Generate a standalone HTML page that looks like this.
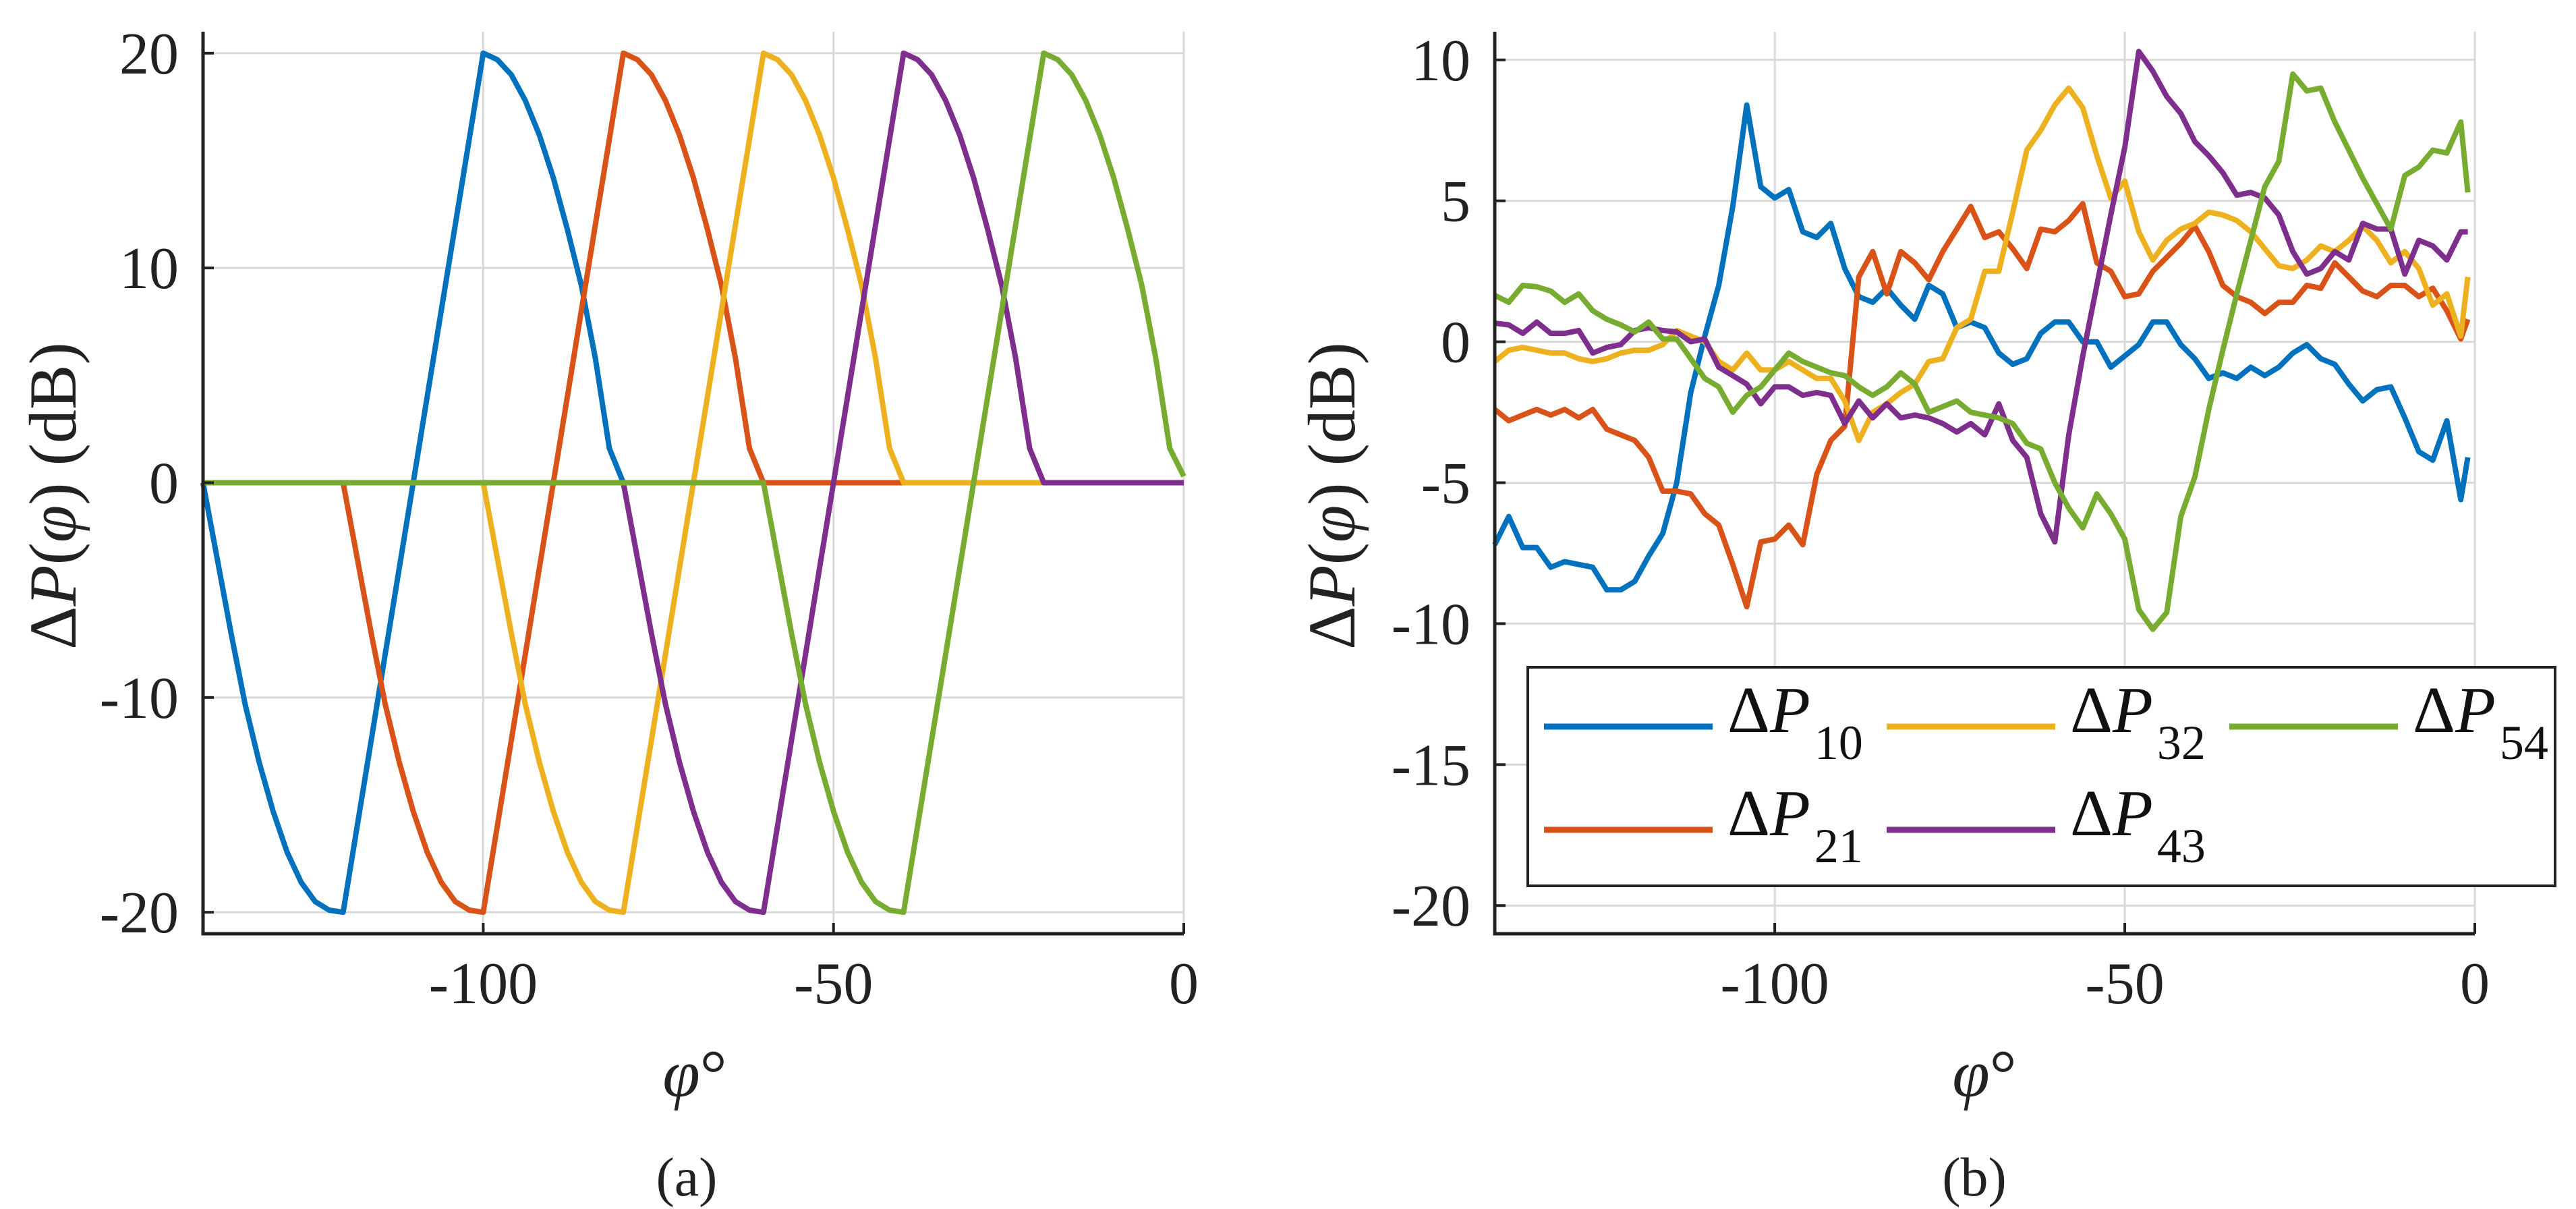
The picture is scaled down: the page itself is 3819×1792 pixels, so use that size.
<!DOCTYPE html>
<html><head><meta charset="utf-8"><style>
html,body{margin:0;padding:0;background:#fff;}
svg{display:block;font-family:"Liberation Serif",serif;}
</style></head><body>
<svg id="fig" width="3819" height="1792" viewBox="0 0 3819 1792" xmlns="http://www.w3.org/2000/svg">
<g id="pa"></g>
<g id="pb"></g>
<g id="legend"></g>
</svg>
<script>
const colors = ["#0072BD","#D95319","#EDB120","#7E2F8E","#77AC30"];
const seriesNames = ["10","21","32","43","54"];
const xTicks = [-100,-50,0];
const yTicksA = [-20,-10,0,10,20];
const yTicksB = [-20,-15,-10,-5,0,5,10];
const xA = [-140,-138,-136,-134,-132,-130,-128,-126,-124,-122,-120,-118,-116,-114,-112,-110,-108,-106,-104,-102,-100,-98,-96,-94,-92,-90,-88,-86,-84,-82,-80,-78,-76,-74,-72,-70,-68,-66,-64,-62,-60,-58,-56,-54,-52,-50,-48,-46,-44,-42,-40,-38,-36,-34,-32,-30,-28,-26,-24,-22,-20,-18,-16,-14,-12,-10,-8,-6,-4,-2,0];
const a10 = [0,-3.5,-7,-10.3,-13,-15.3,-17.2,-18.6,-19.5,-19.9,-20,-16,-12,-8,-4,0,4,8,12,16,20,19.7,19,17.8,16.2,14.2,11.8,9.2,5.8,1.6,0,0,0,0,0,0,0,0,0,0,0,0,0,0,0,0,0,0,0,0,0,0,0,0,0,0,0,0,0,0,0,0,0,0,0,0,0,0,0,0,0];
const a21 = [0,0,0,0,0,0,0,0,0,0,0,-3.5,-7,-10.3,-13,-15.3,-17.2,-18.6,-19.5,-19.9,-20,-16,-12,-8,-4,0,4,8,12,16,20,19.7,19,17.8,16.2,14.2,11.8,9.2,5.8,1.6,0,0,0,0,0,0,0,0,0,0,0,0,0,0,0,0,0,0,0,0,0,0,0,0,0,0,0,0,0,0,0];
const a32 = [0,0,0,0,0,0,0,0,0,0,0,0,0,0,0,0,0,0,0,0,0,-3.5,-7,-10.3,-13,-15.3,-17.2,-18.6,-19.5,-19.9,-20,-16,-12,-8,-4,0,4,8,12,16,20,19.7,19,17.8,16.2,14.2,11.8,9.2,5.8,1.6,0,0,0,0,0,0,0,0,0,0,0,0,0,0,0,0,0,0,0,0,0];
const a43 = [0,0,0,0,0,0,0,0,0,0,0,0,0,0,0,0,0,0,0,0,0,0,0,0,0,0,0,0,0,0,0,-3.5,-7,-10.3,-13,-15.3,-17.2,-18.6,-19.5,-19.9,-20,-16,-12,-8,-4,0,4,8,12,16,20,19.7,19,17.8,16.2,14.2,11.8,9.2,5.8,1.6,0,0,0,0,0,0,0,0,0,0,0];
const a54 = [0,0,0,0,0,0,0,0,0,0,0,0,0,0,0,0,0,0,0,0,0,0,0,0,0,0,0,0,0,0,0,0,0,0,0,0,0,0,0,0,0,-3.5,-7,-10.3,-13,-15.3,-17.2,-18.6,-19.5,-19.9,-20,-16,-12,-8,-4,0,4,8,12,16,20,19.7,19,17.8,16.2,14.2,11.8,9.2,5.8,1.6,0.3];
const xB = [-140,-138,-136,-134,-132,-130,-128,-126,-124,-122,-120,-118,-116,-114,-112,-110,-108,-106,-104,-102,-100,-98,-96,-94,-92,-90,-88,-86,-84,-82,-80,-78,-76,-74,-72,-70,-68,-66,-64,-62,-60,-58,-56,-54,-52,-50,-48,-46,-44,-42,-40,-38,-36,-34,-32,-30,-28,-26,-24,-22,-20,-18,-16,-14,-12,-10,-8,-6,-4,-2,-1];
const b10 = [-7.2,-6.2,-7.3,-7.3,-8.0,-7.8,-7.9,-8.0,-8.8,-8.8,-8.5,-7.6,-6.8,-5.0,-1.8,0.2,2.0,4.8,8.4,5.5,5.1,5.4,3.9,3.7,4.2,2.6,1.6,1.4,1.9,1.3,0.8,2.0,1.7,0.5,0.7,0.5,-0.4,-0.8,-0.6,0.3,0.7,0.7,0,0,-0.9,-0.5,-0.1,0.7,0.7,-0.1,-0.6,-1.3,-1.1,-1.3,-0.9,-1.2,-0.9,-0.4,-0.1,-0.6,-0.8,-1.5,-2.1,-1.7,-1.6,-2.7,-3.9,-4.2,-2.8,-5.6,-4.1];
const b21 = [-2.4,-2.8,-2.6,-2.4,-2.6,-2.4,-2.7,-2.4,-3.1,-3.3,-3.5,-4.1,-5.3,-5.3,-5.4,-6.1,-6.5,-7.9,-9.4,-7.1,-7.0,-6.5,-7.2,-4.7,-3.5,-3.0,2.3,3.2,1.7,3.2,2.8,2.2,3.2,4.0,4.8,3.7,3.9,3.3,2.6,4.0,3.9,4.3,4.9,2.8,2.5,1.6,1.7,2.5,3.0,3.5,4.1,3.2,2.0,1.6,1.4,1.0,1.4,1.4,2.0,1.9,2.8,2.3,1.8,1.6,2.0,2.0,1.6,1.9,1.1,0.1,0.8];
const b32 = [-0.7,-0.3,-0.2,-0.3,-0.4,-0.4,-0.6,-0.7,-0.6,-0.4,-0.3,-0.3,-0.1,0.4,0.2,0,-0.7,-1.0,-0.4,-1.0,-1.0,-0.7,-1.0,-1.3,-1.3,-2.1,-3.5,-2.5,-2.2,-1.8,-1.5,-0.7,-0.6,0.5,0.8,2.5,2.5,4.6,6.8,7.5,8.4,9.0,8.3,6.6,5.1,5.7,3.9,2.9,3.6,4.0,4.2,4.6,4.5,4.3,3.9,3.3,2.7,2.6,2.9,3.4,3.2,3.6,4.1,3.6,2.8,3.2,2.6,1.3,1.7,0.2,2.3];
const b43 = [0.66,0.6,0.3,0.7,0.3,0.3,0.4,-0.4,-0.2,-0.1,0.4,0.5,0.4,0.35,0,0.1,-0.9,-1.2,-1.5,-2.2,-1.6,-1.6,-1.9,-1.8,-1.9,-2.9,-2.1,-2.7,-2.2,-2.7,-2.6,-2.7,-2.9,-3.2,-2.9,-3.3,-2.2,-3.5,-4.1,-6.1,-7.1,-3.3,-0.5,2.0,4.5,6.9,10.3,9.6,8.7,8.1,7.1,6.6,6.0,5.2,5.3,5.1,4.5,3.2,2.4,2.6,3.2,2.9,4.2,4.0,4.0,2.4,3.6,3.4,2.9,3.9,3.9];
const b54 = [1.65,1.4,2.0,1.95,1.8,1.4,1.7,1.1,0.8,0.6,0.35,0.7,0.1,0.1,-0.6,-1.3,-1.6,-2.5,-1.9,-1.6,-1.0,-0.4,-0.7,-0.9,-1.1,-1.2,-1.6,-1.9,-1.6,-1.1,-1.5,-2.5,-2.3,-2.1,-2.5,-2.6,-2.7,-2.9,-3.6,-3.8,-5.0,-5.9,-6.6,-5.4,-6.1,-7.0,-9.5,-10.2,-9.6,-6.2,-4.8,-2.4,-0.3,1.7,3.6,5.5,6.4,9.5,8.9,9.0,7.8,6.8,5.8,4.9,4.0,5.9,6.2,6.8,6.7,7.8,5.3];

const NS="http://www.w3.org/2000/svg";
function mk(parent, tag, attrs, text){
  const e=document.createElementNS(NS,tag);
  for(const k in attrs) e.setAttribute(k,attrs[k]);
  if(text!==undefined) e.textContent=text;
  parent.appendChild(e); return e;
}
function panel(g, cfg){
  const sx=v=>cfg.x0+(v-cfg.xmin)/(cfg.xmax-cfg.xmin)*(cfg.x1-cfg.x0);
  const sy=v=>cfg.y1-(v-cfg.ymin)/(cfg.ymax-cfg.ymin)*(cfg.y1-cfg.y0);
  cfg.yTicks.forEach(t=>{
    const l=mk(g,'line',{x1:cfg.x0,x2:cfg.x1,y1:sy(t),y2:sy(t),stroke:'#d9d9d9','stroke-width':3});
    
    
  });
  xTicks.forEach(t=>{
    const l=mk(g,'line',{x1:sx(t),x2:sx(t),y1:cfg.y0,y2:cfg.y1,stroke:'#d9d9d9','stroke-width':3});
    
    
  });
  cfg.series.forEach((s,i)=>{
    const d=s.map((v,j)=>(j?'L':'M')+sx(cfg.xs[j]).toFixed(1)+' '+sy(v).toFixed(1)).join(' ');
    const p=mk(g,'path',{d:d,fill:'none',stroke:colors[i],'stroke-width':8,'stroke-linejoin':'round'});
    
    
  });
  const ax=mk(g,'path',{d:`M${cfg.x0} ${cfg.y0} L${cfg.x0} ${cfg.y1} L${cfg.x1} ${cfg.y1}`,fill:'none',stroke:'#222','stroke-width':5});
  
  
  cfg.yTicks.forEach(t=>{
    const y=sy(t);
    const tk=mk(g,'line',{x1:cfg.x0,x2:cfg.x0+16,y1:y,y2:y,stroke:'#222','stroke-width':4});
    
    
    const tx=mk(g,'text',{x:cfg.x0-36,y:y+30,'text-anchor':'end','font-size':88,fill:'#222'},String(t));
    
    
  });
  xTicks.forEach(t=>{
    const x=sx(t);
    const tk=mk(g,'line',{x1:x,x2:x,y1:cfg.y1,y2:cfg.y1-16,stroke:'#222','stroke-width':4});
    
    
    const tx=mk(g,'text',{x:x,y:1487,'text-anchor':'middle','font-size':88,fill:'#222'},String(t));
    
    
  });
  const yl=mk(g,'text',{transform:`translate(${cfg.ylx},735) rotate(-90)`,'text-anchor':'middle','font-size':100,fill:'#222'});
  
  
  yl.innerHTML='Δ<tspan font-style="italic">P</tspan>(<tspan font-style="italic">φ</tspan>) (dB)';
  const xl=mk(g,'text',{x:cfg.xlx,y:1625,'text-anchor':'middle','font-size':100,fill:'#222'});
  
  
  xl.innerHTML='<tspan font-style="italic">φ</tspan>°';
  const cap=mk(g,'text',{x:cfg.capx,y:1772,'text-anchor':'middle','font-size':82,fill:'#222'},cfg.cap);
  
  
}
panel(document.getElementById('pa'),{x0:301,x1:1755,y0:47,y1:1384,xmin:-140,xmax:0,ymin:-21,ymax:21,yTicks:yTicksA,xs:xA,series:[a10,a21,a32,a43,a54],ylx:112,xlx:1030,capx:1018,cap:'(a)'});
panel(document.getElementById('pb'),{x0:2216,x1:3669,y0:47,y1:1384,xmin:-140,xmax:0,ymin:-21,ymax:11,yTicks:yTicksB,xs:xB,series:[b10,b21,b32,b43,b54],ylx:2008,xlx:2942,capx:2927,cap:'(b)'});

const lg=document.getElementById('legend');
const box=mk(lg,'rect',{x:2265,y:989,width:1523,height:324,fill:'#fff',stroke:'#222','stroke-width':4});


const lx=[2289,2797,3305], ly=[1077,1230];
seriesNames.forEach((n,i)=>{
  const col=Math.floor(i/2), row=i%2;
  const x=lx[col], y=ly[row];
  const ln=mk(lg,'line',{x1:x,x2:x+250,y1:y,y2:y,stroke:colors[i],'stroke-width':9});
  
  
  const t=mk(lg,'text',{x:x+272,y:y+8,'font-size':98,fill:'#111'});
  
  
  t.innerHTML='Δ<tspan font-style="italic">P</tspan><tspan font-size="72" dy="40" dx="6">'+n+'</tspan>';
});
</script>
</body></html>
